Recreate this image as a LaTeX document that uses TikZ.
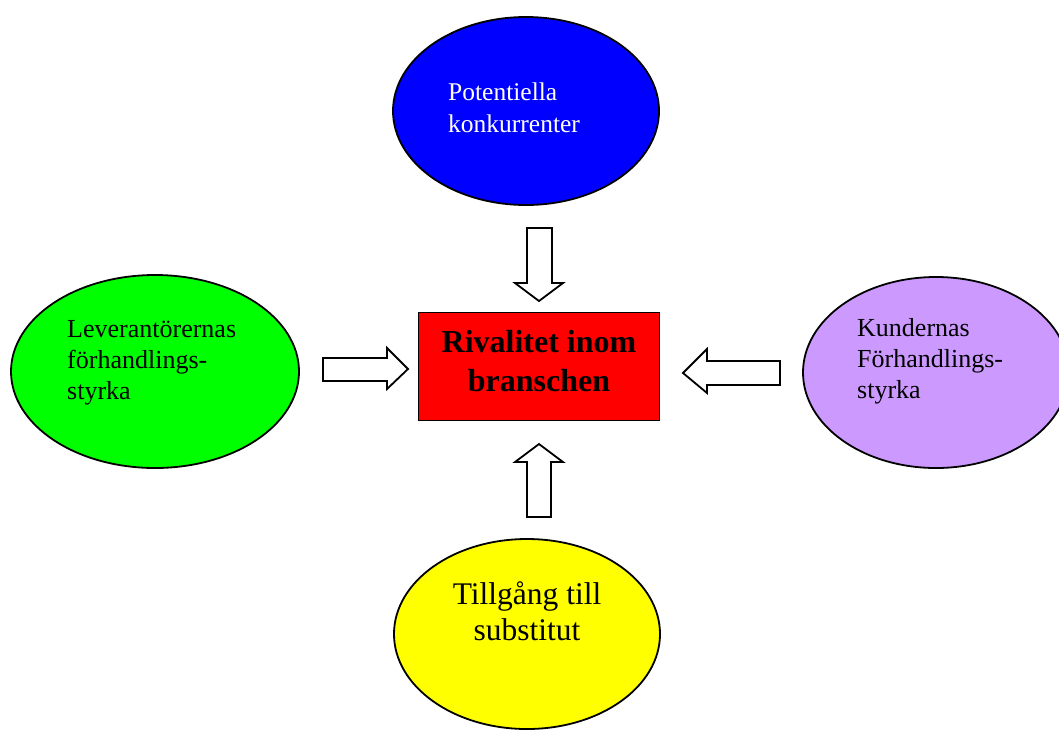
\documentclass[tikz,border=0pt]{standalone}
\usepackage{fontspec}
\setmainfont{Liberation Serif}
\usetikzlibrary{shapes.geometric}
\definecolor{bluefill}{HTML}{0000FF}
\definecolor{greenfill}{HTML}{00FF00}
\definecolor{lavfill}{HTML}{CC99FF}
\definecolor{yelfill}{HTML}{FFFF00}
\definecolor{redfill}{HTML}{FF0000}
\tikzset{
  force/.style={ellipse, draw=black, line width=1.8pt, inner sep=0pt},
  lbl/.style={inner sep=0pt, anchor=base west, align=left},
  blockarrow/.style={draw=black, line width=1.8pt, fill=white, line join=miter},
}
\begin{document}
\begin{tikzpicture}[x=1pt, y=-1pt]
\useasboundingbox (0,0) rectangle (1059,729);
% ellipses
\node[force, fill=bluefill, minimum width=266pt, minimum height=188pt] (top) at (526,111) {};
\node[force, fill=greenfill, minimum width=288pt, minimum height=193pt] (left) at (155,371.5) {};
\node[force, fill=lavfill, minimum width=266pt, minimum height=191pt] (right) at (936,372.5) {};
\node[force, fill=yelfill, minimum width=266pt, minimum height=190pt] (bottom) at (527,634) {};
% centre
\node[draw=black, line width=1.8pt, fill=redfill, minimum width=241pt, minimum height=108pt, inner sep=0pt] (centre) at (539,366.5) {};
\node[inner sep=0pt, align=center, font=\fontsize{32}{39}\selectfont\bfseries, anchor=base] (centretext) at (539,391) {Rivalitet inom\\branschen};
% labels
\node[lbl, text=white, font=\fontsize{25.5}{32}\selectfont] (toptext) at (448,132) {Potentiella\\konkurrenter};
\node[lbl, font=\fontsize{26}{31}\selectfont] (lefttext) at (67,399) {Leverantörernas\\förhandlings-\\styrka};
\node[lbl, font=\fontsize{26}{31}\selectfont] (righttext) at (857,398) {Kundernas\\Förhandlings-\\styrka};
\node[inner sep=0pt, align=center, anchor=base, font=\fontsize{31.5}{36}\selectfont] (bottomtext) at (527,640) {Tillgång till\\substitut};
% block arrows
\draw[blockarrow] (527,228) -- (552,228) -- (552,283) -- (563,283) -- (539,301) -- (515,283) -- (527,283) -- cycle;
\draw[blockarrow] (323,358) -- (387,358) -- (387,348) -- (408,369) -- (387,389) -- (387,381) -- (323,381) -- cycle;
\draw[blockarrow] (780,361) -- (707,361) -- (707,349) -- (683,373) -- (707,393) -- (707,385) -- (780,385) -- cycle;
\draw[blockarrow] (527,517) -- (551,517) -- (551,462) -- (563,462) -- (539,444) -- (515,462) -- (527,462) -- cycle;
\end{tikzpicture}
\end{document}
